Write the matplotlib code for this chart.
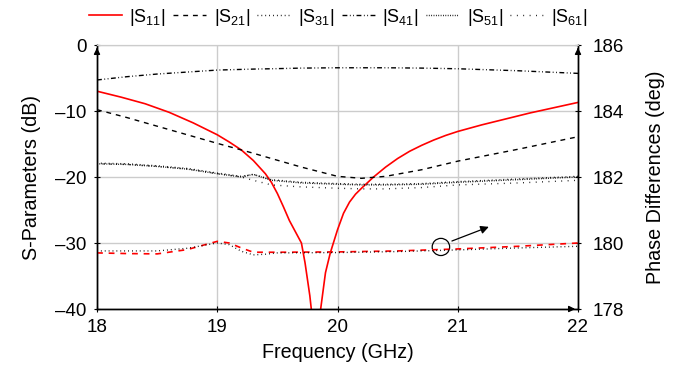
import matplotlib
matplotlib.use("Agg")
import matplotlib.pyplot as plt
from matplotlib.patches import Ellipse

plt.rcParams['font.family'] = ['Liberation Sans', 'DejaVu Sans']
plt.rcParams['mathtext.fontset'] = 'custom'
plt.rcParams['mathtext.rm'] = 'Liberation Sans'
plt.rcParams['mathtext.it'] = 'Liberation Sans'

# ---- data ----
s11_f = [18.0, 18.2, 18.4, 18.6, 18.8, 19.0, 19.1, 19.2, 19.3, 19.4, 19.45, 19.5, 19.55,
         19.6, 19.65, 19.7, 19.73, 19.77, 19.8, 19.83, 19.86, 19.9, 19.94, 20.0, 20.05,
         20.1, 20.15, 20.2, 20.3, 20.4, 20.5, 20.6, 20.7, 20.8, 20.9, 21.0, 21.2, 21.4,
         21.6, 21.8, 22.0]
s11_db = [-7.0, -7.9, -8.9, -10.2, -11.8, -13.6, -14.7, -15.9, -17.5, -19.5, -20.8, -22.5, -24.5,
          -26.6, -28.3, -30.0, -33.0, -38.0, -43.0, -45.0, -40.0, -34.5, -31.5, -28.0, -25.5,
          -23.8, -22.6, -21.7, -20.0, -18.5, -17.2, -16.1, -15.2, -14.4, -13.7, -13.1, -12.1, -11.2,
          -10.3, -9.5, -8.7]

f_grid = [18.0, 18.25, 18.5, 18.75, 19.0, 19.2, 19.3, 19.45, 19.7, 20.0, 20.2, 20.4, 20.7,
          21.0, 21.5, 22.0]
s21_db = [-9.8, -11.0, -12.3, -13.6, -14.9, -15.9, -16.4, -17.2, -18.5, -19.9, -20.2, -19.9, -18.9,
          -17.6, -15.8, -13.9]
s31_db = [-17.9, -18.0, -18.3, -18.7, -19.4, -19.9, -19.6, -20.4, -20.8, -21.0, -21.1, -21.1, -21.0,
          -20.7, -20.3, -19.9]
s41_db = [-5.3, -4.8, -4.4, -4.1, -3.8, -3.7, -3.65, -3.6, -3.5, -3.45, -3.45, -3.45, -3.5,
          -3.6, -3.9, -4.3]
s51_db = [-18.0, -18.1, -18.4, -18.8, -19.5, -20.0, -19.6, -20.5, -20.9, -21.1, -21.2, -21.2, -21.1,
          -20.8, -20.4, -20.0]
s61_db = [-18.0, -18.1, -18.4, -18.8, -19.5, -20.0, -20.5, -21.2, -21.5, -21.7, -21.8, -21.8, -21.6,
          -21.2, -20.9, -20.5]

ph_f = [18.0, 18.25, 18.5, 18.75, 19.0, 19.1, 19.2, 19.3, 19.4, 19.5, 20.0, 20.5, 21.0, 21.5, 22.0]
phase_a = [179.70, 179.68, 179.67, 179.80, 180.05, 180.00, 179.85, 179.72, 179.72, 179.72,
           179.73, 179.76, 179.82, 179.90, 180.00]
phase_b = [179.76, 179.76, 179.76, 179.84, 180.00, 179.95, 179.75, 179.64, 179.66, 179.70,
           179.71, 179.74, 179.79, 179.85, 179.90]

labels = [r'$|\mathrm{S}_{11}|$', r'$|\mathrm{S}_{21}|$', r'$|\mathrm{S}_{31}|$',
          r'$|\mathrm{S}_{41}|$', r'$|\mathrm{S}_{51}|$', r'$|\mathrm{S}_{61}|$']

fig = plt.figure(figsize=(6.88, 3.69), dpi=100)
ax = fig.add_axes([97/688, 1-309/369, (578-97)/688, (309-45)/369])
ax2 = ax.twinx()

lw = 1.0
h1, = ax.plot(s11_f, s11_db, color='red', lw=1.2)
h2, = ax.plot(f_grid, s21_db, color='black', lw=lw, linestyle=(0, (3.5, 3.5)))
h3, = ax.plot(f_grid, s31_db, color='black', lw=lw, linestyle=(0, (0.6, 2.2)))
h4, = ax.plot(f_grid, s41_db, color='black', lw=lw, linestyle=(0, (3.5, 1.8, 0.6, 1.8, 0.6, 1.8)))
h5, = ax.plot(f_grid, s51_db, color='black', lw=lw, linestyle=(0, (0.6, 1.1)))
h6, = ax.plot(f_grid, s61_db, color='black', lw=lw, linestyle=(0, (0.6, 4.0)))

ax2.plot(ph_f, phase_a, color='red', lw=1.2, linestyle=(0, (3.5, 3.5)))
ax2.plot(ph_f, phase_b, color='black', lw=lw, linestyle=(0, (0.6, 2.2)))

ax.set_xlim(18, 22)
ax.set_ylim(-40, 0)
ax2.set_ylim(178, 186)
ax.set_xticks([18, 19, 20, 21, 22])
ax.set_yticks([-40, -30, -20, -10, 0])
ax.set_yticklabels(['\u201340', '\u201330', '\u201320', '\u201310', '0'])
ax2.set_yticks([178, 180, 182, 184, 186])

ax.grid(True, color='#cccccc', lw=1.0)
ax.set_axisbelow(True)
fs_tick = 13.5
fs_lab = 14.2
ax.tick_params(axis='x', labelsize=fs_tick, direction='inout', length=5, width=0.8, pad=5)
ax.tick_params(axis='y', labelsize=fs_tick, direction='inout', length=5, width=0.8, pad=5)
ax2.tick_params(axis='y', labelsize=fs_tick, direction='inout', length=5, width=0.8, pad=8)
ax.set_xlabel('Frequency (GHz)', fontsize=fs_lab, labelpad=5)
ax.set_ylabel('S-Parameters (dB)', fontsize=fs_lab, labelpad=10)
ax2.set_ylabel('Phase Differences (deg)', fontsize=fs_lab, labelpad=16)

for a in (ax, ax2):
    a.spines['top'].set_color('#cccccc')
    a.spines['left'].set_linewidth(1.0)
    a.spines['right'].set_linewidth(1.0)
    a.spines['bottom'].set_linewidth(1.0)

# axis arrows
ax.annotate('', xy=(0, 1.0), xytext=(0, 0.97), xycoords='axes fraction',
            arrowprops=dict(arrowstyle='-|>', color='black', lw=1.0, mutation_scale=9))
ax.annotate('', xy=(1, 1.0), xytext=(1, 0.97), xycoords='axes fraction',
            arrowprops=dict(arrowstyle='-|>', color='black', lw=1.0, mutation_scale=9))
ax.annotate('', xy=(1.0, 0), xytext=(0.98, 0), xycoords='axes fraction',
            arrowprops=dict(arrowstyle='-|>', color='black', lw=1.0, mutation_scale=9))

# circle + arrow annotation
circ = Ellipse((20.86, -30.6), width=0.145, height=2.6, fill=False, color='black', lw=0.9)
ax.add_patch(circ)
ax.annotate('', xy=(21.28, -27.4), xytext=(20.93, -29.85),
            arrowprops=dict(arrowstyle='-|>', color='black', lw=0.9, mutation_scale=12))

leg = fig.legend([h1, h2, h3, h4, h5, h6], labels, loc='center', ncol=6,
                 bbox_to_anchor=(338/688, 1-17/369), frameon=False, fontsize=13,
                 handlelength=1.85, handletextpad=0.4, columnspacing=0.4,
                 borderpad=0.0, borderaxespad=0.0)

fig.savefig('out.png', dpi=100)
